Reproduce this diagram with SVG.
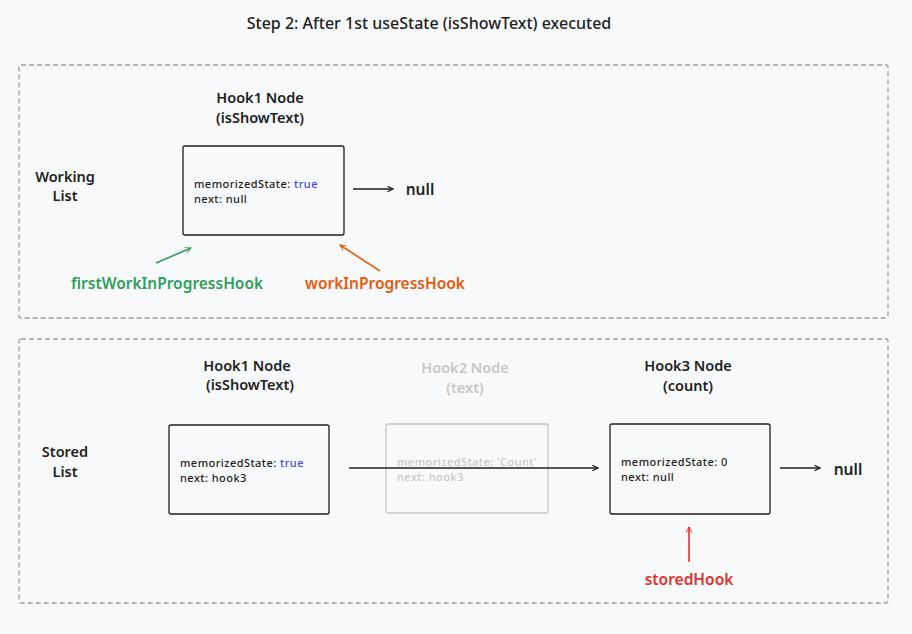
<svg xmlns="http://www.w3.org/2000/svg" width="912" height="634" viewBox="0 0 912 634">
<defs>
<style>
text{font-family:"Noto Sans","Liberation Sans",sans-serif;fill:#1e1e1e}
.t{font-size:16px;text-anchor:middle;font-weight:500}
.h{font-size:14.5px;text-anchor:middle;font-weight:600}
.c{font-size:15.5px;text-anchor:middle;font-weight:600}
.s{font-size:11px;font-weight:500;letter-spacing:0.45px}
.box{fill:none;stroke:#1e1e1e;stroke-width:1.3}
.gbox{fill:none;stroke:#c8c8c8;stroke-width:1.3}
.cont{fill:none;stroke:#9aa0a8;stroke-width:1.3;stroke-dasharray:5 3}
.g{fill:#c8c8c8}
.blue{fill:#4a4ae0}
.con{fill:none;stroke-width:1.6}
</style>
<marker id="ak" viewBox="0 0 10 10" refX="9" refY="5" markerWidth="7" markerHeight="7" orient="auto-start-reverse" markerUnits="userSpaceOnUse"><path d="M1,1 L9,5 L1,9" fill="none" stroke="#1e1e1e" stroke-width="1.6"/></marker>
<marker id="ag" viewBox="0 0 10 10" refX="9" refY="5" markerWidth="7" markerHeight="7" orient="auto" markerUnits="userSpaceOnUse"><path d="M1,1 L9,5 L1,9" fill="none" stroke="#2f9e5c" stroke-width="1.4"/></marker>
<marker id="ao" viewBox="0 0 10 10" refX="9" refY="5" markerWidth="7" markerHeight="7" orient="auto" markerUnits="userSpaceOnUse"><path d="M1,1 L9,5 L1,9" fill="none" stroke="#e8590c" stroke-width="1.4"/></marker>
<marker id="ar" viewBox="0 0 10 10" refX="9" refY="5" markerWidth="7" markerHeight="7" orient="auto" markerUnits="userSpaceOnUse"><path d="M1,1 L9,5 L1,9" fill="none" stroke="#e03131" stroke-width="1.4"/></marker>
</defs>
<rect width="912" height="634" fill="#f8f9fa"/>
<text class="t" x="429" y="29">Step 2: After 1st useState (isShowText) executed</text>

<g id="working-container">
<rect class="cont" x="19" y="65" width="869" height="253" rx="2"/>
<text class="h" x="65" y="182">Working</text>
<text class="h" x="65" y="201">List</text>
</g>

<g id="stored-container">
<rect class="cont" x="19" y="339" width="869" height="264" rx="2"/>
<text class="h" x="65" y="457">Stored</text>
<text class="h" x="65" y="477">List</text>
</g>

<g id="w-hook1">
<text class="h" x="260" y="103">Hook1 Node</text>
<text class="h" x="260" y="123">(isShowText)</text>
<rect class="box" x="183" y="146" width="161" height="89" rx="2"/>
<text class="s" x="194" y="188">memorizedState: <tspan class="blue">true</tspan></text>
<text class="s" x="194" y="203">next: null</text>
</g>

<g id="w-null"><text class="c" x="420" y="195">null</text></g>

<g id="w-first"><text class="c" x="167" y="289" style="fill:#2f9e5c">firstWorkInProgressHook</text></g>
<g id="w-wip"><text class="c" x="385" y="289" style="fill:#e8590c">workInProgressHook</text></g>

<g id="s-hook1">
<text class="h" x="247" y="371">Hook1 Node</text>
<text class="h" x="250" y="390">(isShowText)</text>
<rect class="box" x="169" y="425" width="160" height="89" rx="2"/>
<text class="s" x="180" y="467">memorizedState: <tspan class="blue">true</tspan></text>
<text class="s" x="180" y="482">next: hook3</text>
</g>

<g id="s-hook2">
<text class="h g" x="465" y="373">Hook2 Node</text>
<text class="h g" x="465" y="393">(text)</text>
<rect class="gbox" x="386" y="424" width="162" height="89" rx="2"/>
<text class="s g" x="397" y="466">memorizedState: 'Count'</text>
<text class="s g" x="397" y="481">next: hook3</text>
</g>

<g id="s-hook3">
<text class="h" x="688" y="371">Hook3 Node</text>
<text class="h" x="688" y="391">(count)</text>
<rect class="box" x="610" y="424" width="160" height="90" rx="2"/>
<text class="s" x="621" y="466">memorizedState: 0</text>
<text class="s" x="621" y="481">next: null</text>
</g>

<g id="s-null"><text class="c" x="848" y="475">null</text></g>
<g id="s-stored"><text class="c" x="689" y="585" style="fill:#e03131">storedHook</text></g>

<g id="connectors">
<line class="con" x1="353" y1="189" x2="393" y2="189" stroke="#1e1e1e" marker-end="url(#ak)"/>
<line class="con" x1="156" y1="263" x2="191" y2="248" stroke="#2f9e5c" stroke-width="1.2" marker-end="url(#ag)"/>
<line class="con" x1="380" y1="271" x2="340" y2="245" stroke="#e8590c" stroke-width="1.2" marker-end="url(#ao)"/>
<line class="con" x1="349" y1="468" x2="598" y2="468" stroke="#1e1e1e" marker-end="url(#ak)"/>
<line class="con" x1="780" y1="468" x2="820" y2="468" stroke="#1e1e1e" marker-end="url(#ak)"/>
<line class="con" x1="689" y1="562" x2="689" y2="527" stroke="#e03131" stroke-width="1.2" marker-end="url(#ar)"/>
</g>
</svg>
